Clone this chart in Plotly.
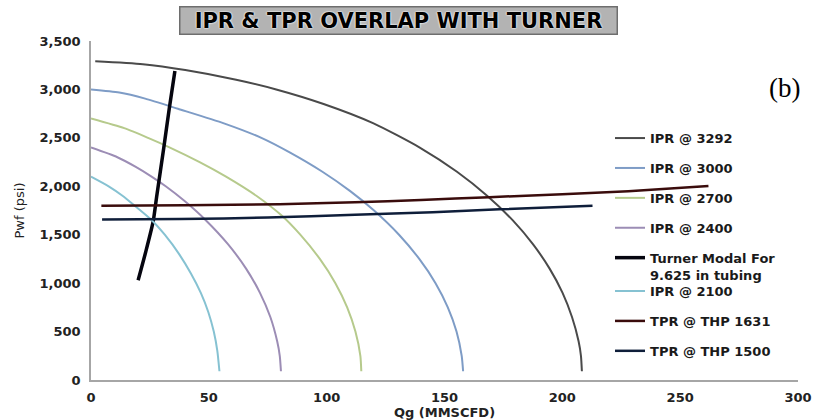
import plotly.graph_objects as go

# Inflow performance (IPR) curves: gas rate Qg (MMSCFD) vs flowing pressure Pwf (psi)
ipr_3292_q = [1.8, 22.0, 40.0, 61.6, 78.6, 98.7, 119.9, 139.5, 155.3, 168.2, 178.9, 187.6, 194.6, 200.1, 204.1, 206.9, 207.9, 208.3]
ipr_3292_p = [3290, 3260, 3200, 3100, 3000, 2850, 2650, 2400, 2150, 1900, 1650, 1400, 1150, 900, 650, 400, 250, 90]

ipr_3000_q = [0, 12.0, 23.0, 36.9, 56.4, 72.3, 84.3, 98.2, 110.0, 120.1, 130.7, 139.3, 146.2, 151.4, 155.1, 157.3, 157.9]
ipr_3000_p = [3000, 2968, 2905, 2800, 2650, 2500, 2350, 2150, 1950, 1750, 1500, 1250, 1000, 750, 500, 250, 90]

ipr_2700_q = [0, 14.1, 24.2, 33.5, 46.1, 57.3, 70.3, 80.8, 88.8, 97.1, 103.7, 108.7, 112.2, 114.3, 114.7]
ipr_2700_p = [2700, 2600, 2500, 2400, 2250, 2100, 1900, 1700, 1500, 1250, 1000, 750, 500, 250, 90]

ipr_2400_q = [0, 11.2, 19.0, 25.7, 31.7, 39.6, 48.7, 58.2, 65.8, 71.7, 76.1, 79.0, 80.1, 80.6]
ipr_2400_p = [2400, 2300, 2200, 2100, 2000, 1850, 1650, 1400, 1150, 900, 650, 400, 250, 90]

ipr_2100_q = [0, 7.5, 13.5, 18.5, 25.8, 31.3, 37.4, 42.4, 46.6, 49.8, 52.1, 53.6, 54.5]
ipr_2100_p = [2100, 2000, 1900, 1800, 1650, 1500, 1300, 1100, 900, 700, 500, 300, 90]

# Turner critical (liquid loading) rate for 9.625 in tubing
turner_q = [20.0, 23.3, 26.4, 27.9, 30.9, 33.2, 35.6]
turner_p = [1030, 1330, 1640, 1900, 2400, 2800, 3190]

# Tubing performance (TPR) curves at two tubing-head pressures
tpr_1631_q = [4.4, 40, 80, 112, 140, 169, 200, 228, 262]
tpr_1631_p = [1798, 1803, 1815, 1834, 1858, 1888, 1918, 1950, 2002]

tpr_1500_q = [4.7, 37.7, 75, 112, 145, 173.3, 212.8]
tpr_1500_p = [1658, 1661, 1678, 1706, 1733, 1762, 1800]

x_ticks = [0, 50, 100, 150, 200, 250, 300]
y_ticks = [0, 500, 1000, 1500, 2000, 2500, 3000, 3500]

series = [
    ("IPR @ 3292", ipr_3292_q, ipr_3292_p, "#4a4a4a", 2.0, "legend"),
    ("IPR @ 3000", ipr_3000_q, ipr_3000_p, "#7e9cc6", 2.0, "legend"),
    ("IPR @ 2700", ipr_2700_q, ipr_2700_p, "#b6ca8c", 2.0, "legend"),
    ("IPR @ 2400", ipr_2400_q, ipr_2400_p, "#9c8db5", 2.0, "legend"),
    ("Turner Modal For<br>9.625 in tubing", turner_q, turner_p, "#05050f", 3.5, "legend"),
    ("IPR @ 2100", ipr_2100_q, ipr_2100_p, "#86c2d2", 2.0, "legend2"),
    ("TPR @ THP 1631", tpr_1631_q, tpr_1631_p, "#3a0c0c", 2.5, "legend2"),
    ("TPR @ THP 1500", tpr_1500_q, tpr_1500_p, "#0f1e3a", 2.5, "legend2"),
]

fig = go.Figure()
for name, q, p, color, width, leg in series:
    fig.add_trace(go.Scatter(
        x=q, y=p, name=name, mode="lines",
        line=dict(color=color, width=width, shape="spline", smoothing=0.6),
        legend=leg, legendgroup=name,
    ))

tick_font = dict(family="DejaVu Sans", size=13, color="#222222", weight="bold")
legend_style = dict(
    x=0.7341, xanchor="left", yanchor="top",
    bgcolor="rgba(0,0,0,0)", borderwidth=0,
    font=dict(family="DejaVu Sans", size=13, color="#1a1a1a", weight="bold"),
    tracegroupgap=10, valign="top",
)

fig.update_layout(
    width=821, height=420,
    margin=dict(l=91, r=23, t=41, b=40),
    paper_bgcolor="white", plot_bgcolor="white",
    font=dict(family="DejaVu Sans", size=13, color="#222222"),
    xaxis=dict(
        range=[0, 300], tickvals=x_ticks, showgrid=False, zeroline=False,
        showline=True, linecolor="#a6a6a6", linewidth=1.5, ticks="",
        tickfont=tick_font, ticklabelstandoff=5, automargin=False,
        title=dict(text="Qg (MMSCFD)", font=dict(family="DejaVu Sans", size=13, color="#222222", weight="bold"), standoff=6),
    ),
    yaxis=dict(
        range=[0, 3500], tickvals=y_ticks, tickformat=",", showgrid=False, zeroline=False,
        showline=True, linecolor="#a6a6a6", linewidth=1.5, ticks="",
        tickfont=tick_font, ticklabelstandoff=6, automargin=False,
        title=dict(text="Pwf (psi)", font=dict(family="DejaVu Sans", size=13, color="#222222"), standoff=12),
    ),
    legend=dict(y=0.7578, **legend_style),
    legend2=dict(y=0.3066, **legend_style),
    showlegend=True,
)

# Boxed chart heading
fig.add_annotation(
    text="<b>IPR &amp; TPR OVERLAP WITH TURNER</b>",
    xref="paper", yref="paper", x=0.4356, y=1.0606, xanchor="center", yanchor="middle",
    showarrow=False, width=430, height=20,
    font=dict(family="DejaVu Sans", size=21, color="#000000", shadow="0px 0px 2px #ffffff, 0px 0px 2px #ffffff"),
    bgcolor="#b3b3b3", bordercolor="#6e6e6e", borderwidth=1.5, borderpad=3,
)

# Panel label
fig.add_annotation(
    text="(b)", xref="paper", yref="paper", x=0.9816, y=0.862,
    xanchor="center", yanchor="middle", showarrow=False,
    font=dict(family="Liberation Serif", size=27, color="#000000"),
)

fig.write_html("out.html")
